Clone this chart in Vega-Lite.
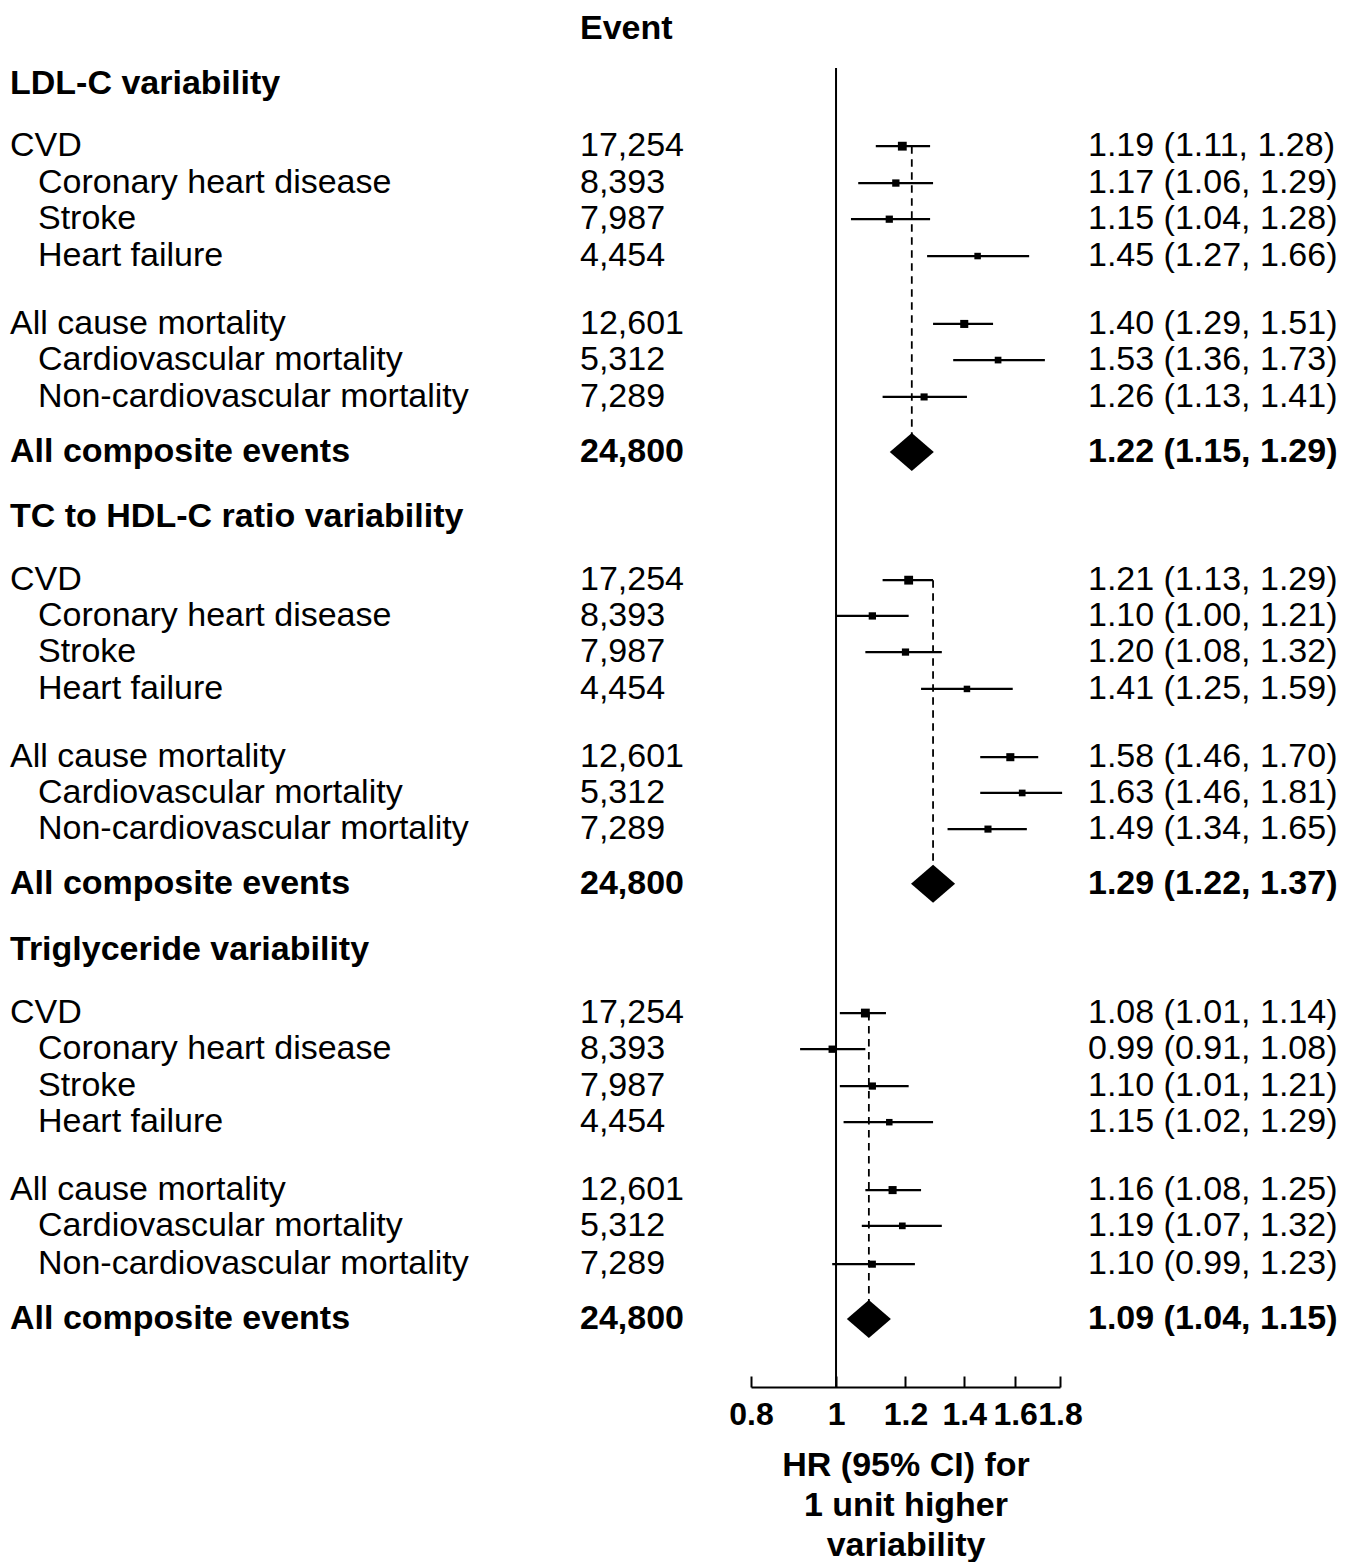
{
  "$schema": "https://vega.github.io/schema/vega-lite/v6.json",
  "background": "white",
  "padding": 0,
  "bounds": "flush",
  "spacing": 0,
  "config": {
    "view": {"stroke": null},
    "font": "Liberation Sans",
    "text": {"font": "Liberation Sans", "fontSize": 34, "color": "black"},
    "axisX": {
      "format": "~g",
      "labelFlush": false,
      "labelOverlap": false,
      "labelFont": "Liberation Sans",
      "labelFontSize": 32,
      "labelFontWeight": "bold",
      "labelColor": "black",
      "labelPadding": 23,
      "tickSize": -11,
      "tickWidth": 2,
      "tickColor": "black",
      "domainColor": "black",
      "domainWidth": 2,
      "grid": false,
      "titleFont": "Liberation Sans",
      "titleFontSize": 34,
      "titleFontWeight": "bold",
      "titleColor": "black",
      "titleLineHeight": 40,
      "titlePadding": 18
    }
  },
  "datasets": {
    "rows": [
      {"sec": "LDL", "type": "header", "level": 0, "row": 1.51, "label": "LDL-C variability"},
      {"sec": "LDL", "type": "item", "level": 0, "row": 3.21, "label": "CVD", "n": 17254, "hr": 1.19, "lo": 1.11, "hi": 1.28, "ci": "1.19 (1.11, 1.28)"},
      {"sec": "LDL", "type": "item", "level": 1, "row": 4.22, "label": "Coronary heart disease", "n": 8393, "hr": 1.17, "lo": 1.06, "hi": 1.29, "ci": "1.17 (1.06, 1.29)"},
      {"sec": "LDL", "type": "item", "level": 1, "row": 5.21, "label": "Stroke", "n": 7987, "hr": 1.15, "lo": 1.04, "hi": 1.28, "ci": "1.15 (1.04, 1.28)"},
      {"sec": "LDL", "type": "item", "level": 1, "row": 6.22, "label": "Heart failure", "n": 4454, "hr": 1.45, "lo": 1.27, "hi": 1.66, "ci": "1.45 (1.27, 1.66)"},
      {"sec": "LDL", "type": "item", "level": 0, "row": 8.08, "label": "All cause mortality", "n": 12601, "hr": 1.40, "lo": 1.29, "hi": 1.51, "ci": "1.40 (1.29, 1.51)"},
      {"sec": "LDL", "type": "item", "level": 1, "row": 9.07, "label": "Cardiovascular mortality", "n": 5312, "hr": 1.53, "lo": 1.36, "hi": 1.73, "ci": "1.53 (1.36, 1.73)"},
      {"sec": "LDL", "type": "item", "level": 1, "row": 10.08, "label": "Non-cardiovascular mortality", "n": 7289, "hr": 1.26, "lo": 1.13, "hi": 1.41, "ci": "1.26 (1.13, 1.41)"},
      {"sec": "LDL", "type": "total", "level": 0, "row": 11.59, "label": "All composite events", "n": 24800, "hr": 1.22, "lo": 1.15, "hi": 1.29, "ci": "1.22 (1.15, 1.29)"},

      {"sec": "TC", "type": "header", "level": 0, "row": 13.37, "label": "TC to HDL-C ratio variability"},
      {"sec": "TC", "type": "item", "level": 0, "row": 15.10, "label": "CVD", "n": 17254, "hr": 1.21, "lo": 1.13, "hi": 1.29, "ci": "1.21 (1.13, 1.29)"},
      {"sec": "TC", "type": "item", "level": 1, "row": 16.08, "label": "Coronary heart disease", "n": 8393, "hr": 1.10, "lo": 1.00, "hi": 1.21, "ci": "1.10 (1.00, 1.21)"},
      {"sec": "TC", "type": "item", "level": 1, "row": 17.07, "label": "Stroke", "n": 7987, "hr": 1.20, "lo": 1.08, "hi": 1.32, "ci": "1.20 (1.08, 1.32)"},
      {"sec": "TC", "type": "item", "level": 1, "row": 18.08, "label": "Heart failure", "n": 4454, "hr": 1.41, "lo": 1.25, "hi": 1.59, "ci": "1.41 (1.25, 1.59)"},
      {"sec": "TC", "type": "item", "level": 0, "row": 19.95, "label": "All cause mortality", "n": 12601, "hr": 1.58, "lo": 1.46, "hi": 1.70, "ci": "1.58 (1.46, 1.70)"},
      {"sec": "TC", "type": "item", "level": 1, "row": 20.93, "label": "Cardiovascular mortality", "n": 5312, "hr": 1.63, "lo": 1.46, "hi": 1.81, "ci": "1.63 (1.46, 1.81)"},
      {"sec": "TC", "type": "item", "level": 1, "row": 21.92, "label": "Non-cardiovascular mortality", "n": 7289, "hr": 1.49, "lo": 1.34, "hi": 1.65, "ci": "1.49 (1.34, 1.65)"},
      {"sec": "TC", "type": "total", "level": 0, "row": 23.42, "label": "All composite events", "n": 24800, "hr": 1.29, "lo": 1.22, "hi": 1.37, "ci": "1.29 (1.22, 1.37)"},

      {"sec": "TG", "type": "header", "level": 0, "row": 25.23, "label": "Triglyceride variability"},
      {"sec": "TG", "type": "item", "level": 0, "row": 26.96, "label": "CVD", "n": 17254, "hr": 1.08, "lo": 1.01, "hi": 1.14, "ci": "1.08 (1.01, 1.14)"},
      {"sec": "TG", "type": "item", "level": 1, "row": 27.95, "label": "Coronary heart disease", "n": 8393, "hr": 0.99, "lo": 0.91, "hi": 1.08, "ci": "0.99 (0.91, 1.08)"},
      {"sec": "TG", "type": "item", "level": 1, "row": 28.96, "label": "Stroke", "n": 7987, "hr": 1.10, "lo": 1.01, "hi": 1.21, "ci": "1.10 (1.01, 1.21)"},
      {"sec": "TG", "type": "item", "level": 1, "row": 29.95, "label": "Heart failure", "n": 4454, "hr": 1.15, "lo": 1.02, "hi": 1.29, "ci": "1.15 (1.02, 1.29)"},
      {"sec": "TG", "type": "item", "level": 0, "row": 31.81, "label": "All cause mortality", "n": 12601, "hr": 1.16, "lo": 1.08, "hi": 1.25, "ci": "1.16 (1.08, 1.25)"},
      {"sec": "TG", "type": "item", "level": 1, "row": 32.79, "label": "Cardiovascular mortality", "n": 5312, "hr": 1.19, "lo": 1.07, "hi": 1.32, "ci": "1.19 (1.07, 1.32)"},
      {"sec": "TG", "type": "item", "level": 1, "row": 33.84, "label": "Non-cardiovascular mortality", "n": 7289, "hr": 1.10, "lo": 0.99, "hi": 1.23, "ci": "1.10 (0.99, 1.23)"},
      {"sec": "TG", "type": "total", "level": 0, "row": 35.34, "label": "All composite events", "n": 24800, "hr": 1.09, "lo": 1.04, "hi": 1.15, "ci": "1.09 (1.04, 1.15)"}
    ]
  },
  "hconcat": [
    {
      "width": 580,
      "height": 1387,
      "data": {"name": "rows"},
      "encoding": {
        "x": {"field": "level", "type": "quantitative", "scale": {"domain": [0, 1], "range": [10, 38]}, "axis": null},
        "y": {"field": "row", "type": "quantitative", "scale": {"domain": [-0.795, 37.205], "reverse": true, "nice": false, "zero": false}, "axis": null},
        "text": {"field": "label", "type": "nominal"}
      },
      "layer": [
        {
          "transform": [{"filter": "datum.type === 'item'"}],
          "mark": {"type": "text", "align": "left", "baseline": "middle", "fontSize": 34, "font": "Liberation Sans", "color": "black"}
        },
        {
          "transform": [{"filter": "datum.type !== 'item'"}],
          "mark": {"type": "text", "align": "left", "baseline": "middle", "fontSize": 34, "font": "Liberation Sans", "fontWeight": "bold", "color": "black"}
        }
      ]
    },
    {
      "width": 171,
      "height": 1387,
      "data": {"name": "rows"},
      "layer": [
        {
          "transform": [{"filter": "datum.type === 'item'"}],
          "mark": {"type": "text", "align": "left", "baseline": "middle", "fontSize": 34, "font": "Liberation Sans", "color": "black"},
          "encoding": {
            "x": {"datum": 0, "type": "quantitative", "scale": {"domain": [0, 1], "range": [0, 171]}, "axis": null},
            "y": {"field": "row", "type": "quantitative", "scale": {"domain": [-0.795, 37.205], "reverse": true, "nice": false, "zero": false}, "axis": null},
            "text": {"field": "n", "type": "quantitative", "format": ","}
          }
        },
        {
          "transform": [{"filter": "datum.type === 'total'"}],
          "mark": {"type": "text", "align": "left", "baseline": "middle", "fontSize": 34, "font": "Liberation Sans", "fontWeight": "bold", "color": "black"},
          "encoding": {
            "x": {"datum": 0, "type": "quantitative", "scale": {"domain": [0, 1], "range": [0, 171]}, "axis": null},
            "y": {"field": "row", "type": "quantitative", "scale": {"domain": [-0.795, 37.205], "reverse": true, "nice": false, "zero": false}, "axis": null},
            "text": {"field": "n", "type": "quantitative", "format": ","}
          }
        },
        {
          "data": {"values": [{"head": "Event", "row": 0}]},
          "mark": {"type": "text", "align": "left", "baseline": "middle", "fontSize": 34, "font": "Liberation Sans", "fontWeight": "bold", "color": "black"},
          "encoding": {
            "x": {"datum": 0, "type": "quantitative", "scale": {"domain": [0, 1], "range": [0, 171]}, "axis": null},
            "y": {"field": "row", "type": "quantitative", "scale": {"domain": [-0.795, 37.205], "reverse": true, "nice": false, "zero": false}, "axis": null},
            "text": {"field": "head", "type": "nominal"}
          }
        }
      ]
    },
    {
      "width": 309,
      "height": 1387,
      "data": {"name": "rows"},
      "layer": [
        {
          "transform": [{"filter": "datum.type === 'item'"}],
          "mark": {"type": "rule", "strokeWidth": 2.2, "color": "black"},
          "encoding": {
            "x": {
              "field": "lo", "type": "quantitative",
              "scale": {"type": "log", "domain": [0.8, 1.8], "nice": false, "zero": false},
              "title": ["HR (95% CI) for", "1 unit higher", "variability"],
              "axis": {"values": [0.8, 1, 1.2, 1.4, 1.6, 1.8]}
            },
            "x2": {"field": "hi"},
            "y": {"field": "row", "type": "quantitative", "scale": {"domain": [-0.795, 37.205], "reverse": true, "nice": false, "zero": false}, "axis": null}
          }
        },
        {
          "data": {"values": [{"ref": 1}]},
          "mark": {"type": "rule", "strokeWidth": 2, "color": "black"},
          "encoding": {
            "x": {"field": "ref", "type": "quantitative", "title": ["HR (95% CI) for", "1 unit higher", "variability"], "axis": {"values": [0.8, 1, 1.2, 1.4, 1.6, 1.8]}},
            "y": {"datum": 1.07, "type": "quantitative", "scale": {"domain": [-0.795, 37.205], "reverse": true, "nice": false, "zero": false}, "axis": null},
            "y2": {"datum": 37.205}
          }
        },
        {
          "transform": [
            {"filter": "datum.type !== 'header'"},
            {"joinaggregate": [{"op": "min", "field": "row", "as": "top"}, {"op": "max", "field": "row", "as": "bottom"}], "groupby": ["sec"]},
            {"filter": "datum.type === 'total'"}
          ],
          "mark": {"type": "rule", "strokeWidth": 1.8, "strokeDash": [7.5, 5.5], "color": "black"},
          "encoding": {
            "x": {"field": "hr", "type": "quantitative", "title": ["HR (95% CI) for", "1 unit higher", "variability"], "axis": {"values": [0.8, 1, 1.2, 1.4, 1.6, 1.8]}},
            "y": {"field": "top", "type": "quantitative", "scale": {"domain": [-0.795, 37.205], "reverse": true, "nice": false, "zero": false}, "axis": null},
            "y2": {"field": "bottom"}
          }
        },
        {
          "transform": [{"filter": "datum.type === 'item'"}],
          "mark": {"type": "point", "shape": "square", "filled": true, "color": "black", "opacity": 1, "strokeWidth": 0},
          "encoding": {
            "x": {"field": "hr", "type": "quantitative", "title": ["HR (95% CI) for", "1 unit higher", "variability"], "axis": {"values": [0.8, 1, 1.2, 1.4, 1.6, 1.8]}},
            "y": {"field": "row", "type": "quantitative", "scale": {"domain": [-0.795, 37.205], "reverse": true, "nice": false, "zero": false}, "axis": null},
            "size": {"field": "n", "type": "quantitative", "scale": {"domain": [0, 17254], "range": [30, 78], "zero": false}, "legend": null}
          }
        },
        {
          "transform": [{"filter": "datum.type === 'total'"}],
          "mark": {"type": "point", "shape": "M-1.16,0L0,-1L1.16,0L0,1Z", "filled": true, "color": "black", "opacity": 1, "size": 1444, "strokeWidth": 0},
          "encoding": {
            "x": {"field": "hr", "type": "quantitative", "title": ["HR (95% CI) for", "1 unit higher", "variability"], "axis": {"values": [0.8, 1, 1.2, 1.4, 1.6, 1.8]}},
            "y": {"field": "row", "type": "quantitative", "scale": {"domain": [-0.795, 37.205], "reverse": true, "nice": false, "zero": false}, "axis": null}
          }
        }
      ]
    },
    {
      "width": 294,
      "height": 1387,
      "data": {"name": "rows"},
      "encoding": {
        "x": {"datum": 0, "type": "quantitative", "scale": {"domain": [0, 1], "range": [28, 294]}, "axis": null},
        "y": {"field": "row", "type": "quantitative", "scale": {"domain": [-0.795, 37.205], "reverse": true, "nice": false, "zero": false}, "axis": null},
        "text": {"field": "ci", "type": "nominal"}
      },
      "layer": [
        {
          "transform": [{"filter": "datum.type === 'item'"}],
          "mark": {"type": "text", "align": "left", "baseline": "middle", "fontSize": 34, "font": "Liberation Sans", "color": "black"}
        },
        {
          "transform": [{"filter": "datum.type === 'total'"}],
          "mark": {"type": "text", "align": "left", "baseline": "middle", "fontSize": 34, "font": "Liberation Sans", "fontWeight": "bold", "color": "black"}
        }
      ]
    }
  ]
}
